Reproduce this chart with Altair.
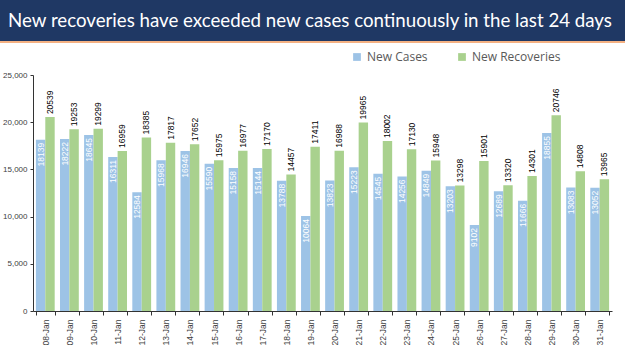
import altair as alt
import pandas as pd

dates = ["08-Jan", "09-Jan", "10-Jan", "11-Jan", "12-Jan", "13-Jan", "14-Jan", "15-Jan",
         "16-Jan", "17-Jan", "18-Jan", "19-Jan", "20-Jan", "21-Jan", "22-Jan", "23-Jan",
         "24-Jan", "25-Jan", "26-Jan", "27-Jan", "28-Jan", "29-Jan", "30-Jan", "31-Jan"]
new_cases = [18139, 18222, 18645, 16311, 12584, 15968, 16946, 15590, 15158, 15144, 13788, 10064,
             13823, 15223, 14545, 14256, 14849, 13203, 9102, 12689, 11666, 18855, 13083, 13052]
new_recoveries = [20539, 19253, 19299, 16959, 18385, 17817, 17652, 15975, 16977, 17170, 14457, 17411,
                  16988, 19965, 18002, 17130, 15948, 13298, 15901, 13320, 14301, 20746, 14808, 13965]
y_ticks = [0, 5000, 10000, 15000, 20000, 25000]
series = ["New Cases", "New Recoveries"]
colors = ["#9DC3E6", "#A9D18E"]
title_text = "New recoveries have exceeded new cases continuously in the last 24 days"

rows = []
for d, c, r in zip(dates, new_cases, new_recoveries):
    rows.append({"date": d, "series": series[0], "value": c})
    rows.append({"date": d, "series": series[1], "value": r})
df = pd.DataFrame(rows)

W, H = 579, 236
LEFT, TOP = 33, 75

x = alt.X("date:N", sort=dates, title=None,
          scale=alt.Scale(paddingInner=0.22, paddingOuter=0.12),
          axis=alt.Axis(labelAngle=-90, labelFontSize=8.5, labelColor="#404040",
                        labelFont="Liberation Sans", tickBand="extent", tickSize=4,
                        domainColor="#333333", tickColor="#333333", labelPadding=4))
xo = alt.XOffset("series:N", sort=series, scale=alt.Scale(paddingInner=0, paddingOuter=0))
y = alt.Y("value:Q", title=None,
          scale=alt.Scale(domain=[0, 25000], nice=False),
          axis=alt.Axis(values=y_ticks, labelExpr="format(datum.value, ',')",
                        grid=False, labelFontSize=8, labelColor="#404040",
                        labelFont="Liberation Sans", tickSize=3, domainColor="#333333",
                        tickColor="#333333", labelPadding=3))

base = alt.Chart(df)

bars = base.mark_bar().encode(
    x=x, xOffset=xo, y=y,
    color=alt.Color("series:N", sort=series,
                    scale=alt.Scale(domain=series, range=colors),
                    legend=alt.Legend(title=None, orient="none", legendX=318, legendY=-24,
                                      direction="horizontal", symbolType="square",
                                      symbolSize=60, labelFontSize=12, labelColor="#595959",
                                      labelFont="Open Sans", columnPadding=28,
                                      symbolStrokeWidth=0))
)

case_labels = base.transform_filter(alt.datum.series == "New Cases").mark_text(
    angle=270, align="right", baseline="middle", dx=-3, fontSize=8.5,
    font="Liberation Sans", color="white"
).encode(x=x, xOffset=xo, y=y, text=alt.Text("value:Q", format="d"))

rec_labels = base.transform_filter(alt.datum.series == "New Recoveries").mark_text(
    angle=270, align="left", baseline="middle", dx=3, fontSize=8.5,
    font="Liberation Sans", color="black"
).encode(x=x, xOffset=xo, y=y, text=alt.Text("value:Q", format="d"))

tdf = pd.DataFrame({"t": [title_text]})
banner = alt.Chart(tdf).mark_rect(color="#1F3864").encode(
    x=alt.value(-LEFT), x2=alt.value(625 - LEFT), y=alt.value(-TOP), y2=alt.value(-TOP + 41))
stripe = alt.Chart(tdf).mark_rect(color="#F4B183").encode(
    x=alt.value(-LEFT), x2=alt.value(625 - LEFT), y=alt.value(-TOP + 41), y2=alt.value(-TOP + 43))
title = alt.Chart(tdf).mark_text(color="white", fontSize=18.7, font="Lato",
                                 align="center", baseline="middle").encode(
    text="t:N", x=alt.value(310 - LEFT), y=alt.value(-TOP + 21))

chart = alt.layer(bars, case_labels, rec_labels, banner, stripe, title).properties(
    width=W, height=H, padding=0
).configure_view(stroke=None)

chart.save("out.html", embed_options={"renderer": "svg", "actions": False})
